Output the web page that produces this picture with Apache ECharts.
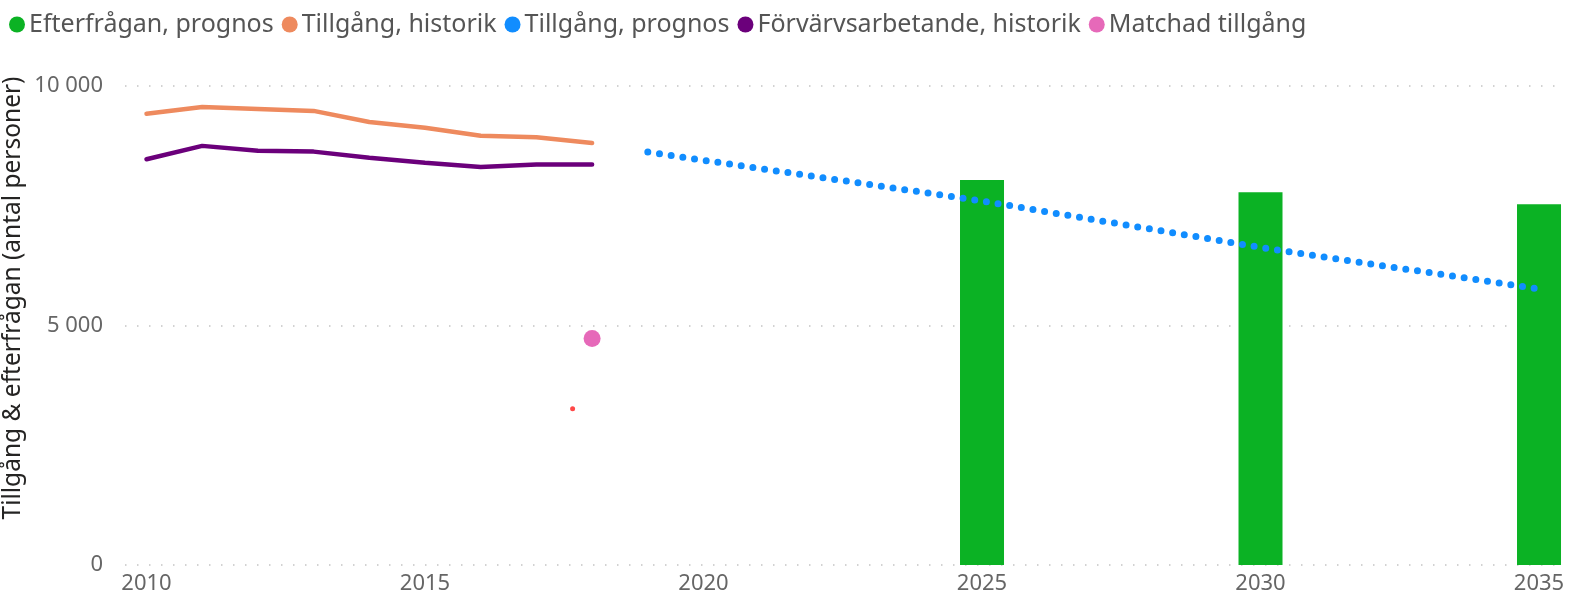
<!DOCTYPE html>
<html>
<head>
<meta charset="utf-8">
<script src="https://cdn.jsdelivr.net/npm/echarts@6/dist/echarts.min.js"></script>
<style>
  html, body { margin: 0; padding: 0; background: #fff; }
  #main { width: 1569px; height: 599px; }
</style>
</head>
<body>
<div id="main"></div>
<script>
// år och värden
const histYears = [2010, 2011, 2012, 2013, 2014, 2015, 2016, 2017, 2018];
const tillgangHist = [9420, 9560, 9520, 9480, 9250, 9130, 8960, 8930, 8810];
const forvarvHist = [8470, 8750, 8650, 8630, 8500, 8400, 8310, 8360, 8360];

const progYears = [2019, 2020, 2021, 2022, 2023, 2024, 2025, 2026, 2027,
  2028, 2029, 2030, 2031, 2032, 2033, 2034, 2035];
const tillgangProg = [8620, 8450, 8280, 8110, 7940, 7770, 7600, 7405, 7210,
  7020, 6825, 6630, 6455, 6280, 6110, 5935, 5760];

const demandYears = [2025, 2030, 2035];
const efterfraganProg = [8040, 7780, 7530];

const matchadYear = 2018;
const matchadValue = 4730;
const extraPoint = [2017.65, 3260];

const xTicks = [2010, 2015, 2020, 2025, 2030, 2035];

const zip = (xs, ys) => xs.map((x, i) => [x, ys[i]]);

const labelColor = "#666666";
const font = "'Noto Sans', 'Open Sans', sans-serif";

let chart = echarts.init(document.getElementById("main"));
let option = {
  animation: false,
  textStyle: { fontFamily: font },
  legend: {
    left: 4,
    top: 7,
    icon: "circle",
    itemWidth: 16,
    itemHeight: 16,
    itemGap: 8,
    textStyle: { fontSize: 25, color: "#555555", fontFamily: font, padding: [0, 0, 0, -1] },
    data: ["Efterfrågan, prognos", "Tillgång, historik", "Tillgång, prognos",
      "Förvärvsarbetande, historik", "Matchad tillgång"]
  },
  grid: { left: 125, right: 14, top: 86, bottom: 34 },
  xAxis: {
    type: "value",
    min: 2009.614,
    max: 2035.287,
    axisLine: { show: false },
    axisTick: { show: false },
    splitLine: { show: false },
    axisLabel: {
      customValues: xTicks,
      color: labelColor,
      fontSize: 22,
      margin: 8,
      formatter: v => String(v)
    }
  },
  yAxis: {
    type: "value",
    min: 0,
    max: 10000,
    interval: 5000,
    axisLine: { show: false },
    axisTick: { show: false },
    axisLabel: {
      color: labelColor,
      fontSize: 22,
      margin: 22,
      formatter: v => String(v).replace(/\B(?=(\d{3})+(?!\d))/g, " ")
    },
    splitLine: {
      lineStyle: { color: "#c4c4c4", width: 1.5, type: [1.5, 10.5] }
    }
  },
  graphic: [
    {
      type: "text",
      x: 13,
      y: 298,
      rotation: Math.PI / 2,
      style: {
        text: "Tillgång & efterfrågan (antal personer)",
        fill: "#252423",
        fontSize: 24.5,
        fontFamily: font,
        align: "center",
        verticalAlign: "middle"
      }
    }
  ],
  series: [
    {
      name: "Efterfrågan, prognos",
      type: "bar",
      barWidth: 44,
      clip: false,
      itemStyle: { color: "#0BB224" },
      data: zip(demandYears, efterfraganProg)
    },
    {
      name: "Tillgång, historik",
      type: "line",
      symbol: "none",
      itemStyle: { color: "#EE8A5E" },
      lineStyle: { width: 4.5, cap: "round" },
      data: zip(histYears, tillgangHist)
    },
    {
      name: "Tillgång, prognos",
      type: "line",
      symbol: "none",
      itemStyle: { color: "#118DFF" },
      lineStyle: { width: 7, type: [0, 11.8], cap: "round" },
      data: zip(progYears, tillgangProg)
    },
    {
      name: "Förvärvsarbetande, historik",
      type: "line",
      symbol: "none",
      itemStyle: { color: "#6B007B" },
      lineStyle: { width: 4.5, cap: "round" },
      data: zip(histYears, forvarvHist)
    },
    {
      name: "Matchad tillgång",
      type: "scatter",
      symbolSize: 17,
      itemStyle: { color: "#E044A7" },
      data: [[matchadYear, matchadValue]]
    },
    {
      type: "scatter",
      symbolSize: 5,
      itemStyle: { color: "#FF1A1A" },
      data: [extraPoint]
    }
  ]
};
chart.setOption(option);
</script>
</body>
</html>
